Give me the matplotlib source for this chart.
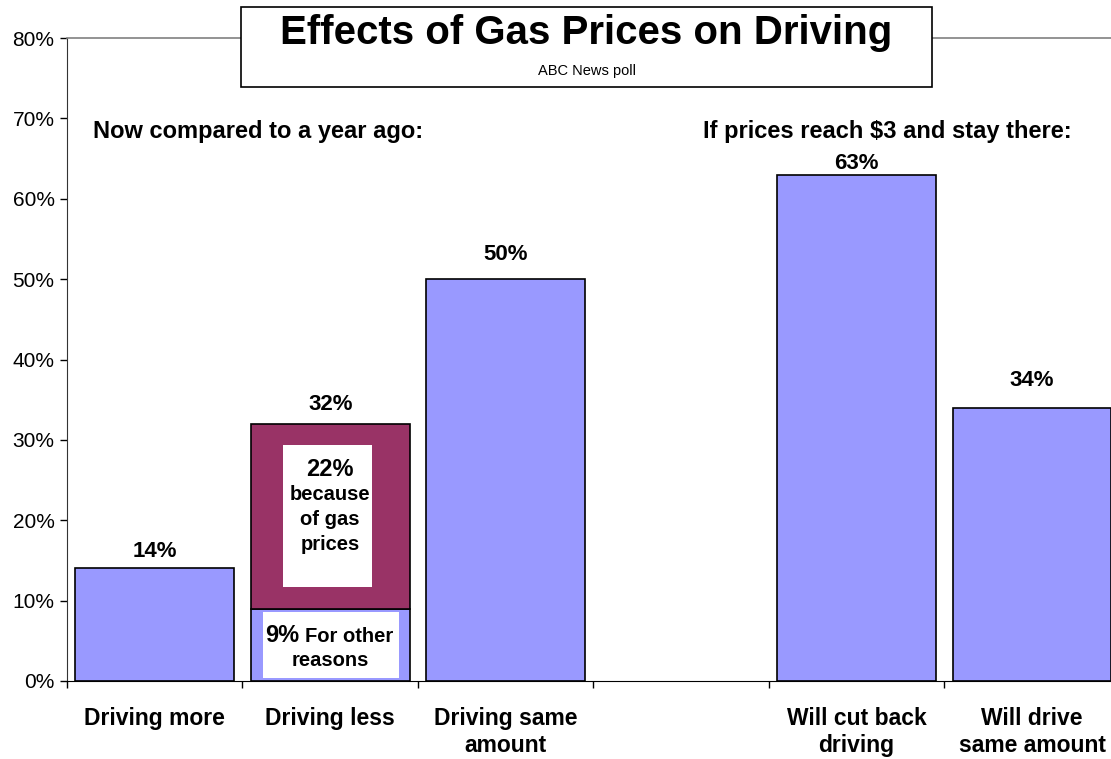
import matplotlib
matplotlib.use("Agg")
import matplotlib.pyplot as plt
from matplotlib.patches import Rectangle

plt.rcParams['font.family'] = ['Liberation Sans', 'DejaVu Sans']

categories = ["Driving more", "Driving less", "Driving same\namount", "",
              "Will cut back\ndriving", "Will drive\nsame amount"]
values = [14, 32, 50, None, 63, 34]
less_other = 9      # Driving less: for other reasons
less_gas_label = 22  # Driving less: because of gas prices (label)
yticks = [0, 10, 20, 30, 40, 50, 60, 70, 80]

# label offsets above bar tops (points), style only
label_offsets = [12.5, 13.7, 18, 0, 8, 19.4]

blue = "#9999FF"
maroon = "#993366"

W, H = 1111, 759
fig = plt.figure(figsize=(W / 100, H / 100), dpi=100)
ax = fig.add_axes([67 / W, (H - 681) / H, (W - 67) / W, (681 - 38) / H])

bw = 0.905
for i, v in enumerate(values):
    if v is None:
        continue
    if i == 1:
        ax.bar(i, less_other, width=bw, color=blue, edgecolor="black", linewidth=1.2, zorder=2)
        ax.bar(i, v - less_other, bottom=less_other, width=bw, color=maroon,
               edgecolor="black", linewidth=1.2, zorder=2)
    else:
        ax.bar(i, v, width=bw, color=blue, edgecolor="black", linewidth=1.2, zorder=2)
    ax.annotate(f"{v}%", (i, v), xytext=(0, label_offsets[i]), textcoords="offset points",
                ha="center", va="center", fontsize=16, fontweight="bold")

# inner label boxes for "Driving less"
ax.add_patch(Rectangle((0.73, 11.7), 0.51, 17.7, facecolor="white", edgecolor="none", zorder=3))
ax.add_patch(Rectangle((0.617, 0.35), 0.775, 8.2, facecolor="white", edgecolor="none", zorder=3))
ax.text(1, 25.5, f"{less_gas_label}%", ha="center", va="baseline", fontsize=17,
        fontweight="bold", zorder=4)
ax.text(1, 22.5, "because", ha="center", va="baseline", fontsize=14.5,
        fontweight="bold", zorder=4)
ax.text(1, 19.4, "of gas", ha="center", va="baseline", fontsize=14.5,
        fontweight="bold", zorder=4)
ax.text(1, 16.3, "prices", ha="center", va="baseline", fontsize=14.5,
        fontweight="bold", zorder=4)
ax.text(0.628, 4.8, f"{less_other}%", ha="left", va="baseline", fontsize=17,
        fontweight="bold", zorder=4)
ax.text(0.856, 4.8, "For other", ha="left", va="baseline", fontsize=14.5,
        fontweight="bold", zorder=4)
ax.text(1.0, 1.9, "reasons", ha="center", va="baseline", fontsize=14.5,
        fontweight="bold", zorder=4)

ax.text(-0.352, 67.6, "Now compared to a year ago:", ha="left", va="baseline",
        fontsize=17, fontweight="bold")
ax.text(3.124, 67.6, "If prices reach $3 and stay there:", ha="left", va="baseline",
        fontsize=17, fontweight="bold")

ax.set_xlim(-0.5, 5.45)
ax.set_ylim(0, 80)
ax.set_yticks(yticks)
ax.set_yticklabels([f"{t}%" for t in yticks], fontsize=15)
ax.set_xticks([i - 0.5 for i in range(6)])
ax.set_xticklabels([])
ax.set_xticks(range(6), minor=True)
ax.set_xticklabels(categories, minor=True, fontsize=16.5, fontweight="bold", linespacing=1.22)
ax.tick_params(axis="x", which="minor", length=0, pad=19)
ax.tick_params(axis="x", which="major", length=5, width=1, direction="out")
ax.tick_params(axis="y", length=5, width=1, direction="out", pad=4)

ax.spines["right"].set_visible(False)
ax.spines["top"].set_color("#808080")
ax.spines["top"].set_linewidth(1.2)
ax.spines["left"].set_color("#333333")
ax.spines["bottom"].set_color("black")

# title box
fig.patches.append(Rectangle((241 / W, (H - 87) / H), (932 - 241) / W, 80 / H,
                             transform=fig.transFigure, facecolor="white",
                             edgecolor="black", linewidth=1.2, zorder=5))
fig.text((241 + 932) / 2 / W, (H - 44) / H, "Effects of Gas Prices on Driving",
         ha="center", va="baseline", fontsize=29, fontweight="bold", zorder=6)
fig.text((241 + 932) / 2 / W, (H - 75) / H, "ABC News poll",
         ha="center", va="baseline", fontsize=10.5, zorder=6)

fig.savefig("out.png", dpi=100)
